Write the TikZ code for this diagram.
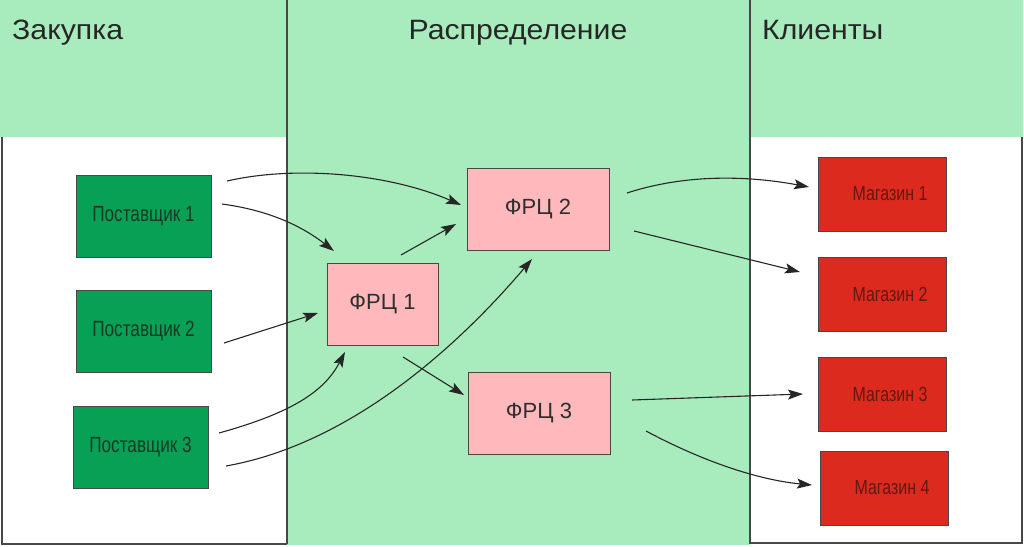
\documentclass[tikz,border=0pt]{standalone}
\usepackage{fontspec}
\setmainfont{Liberation Sans}
\newfontfamily\narrowfont[FakeStretch=0.78]{Liberation Sans}
\newfontfamily\widefont[FakeStretch=1.08]{Liberation Sans}
\usetikzlibrary{positioning,arrows.meta}
\definecolor{LaneGreen}{RGB}{168,236,189}
\definecolor{SupplierGreen}{RGB}{8,160,84}
\definecolor{SupplierText}{RGB}{28,56,38}
\definecolor{CentrePink}{RGB}{255,184,188}
\definecolor{ShopRed}{RGB}{220,42,30}
\definecolor{ShopText}{RGB}{100,24,18}
\colorlet{ColourLine}{black!72}
\tikzset{
  lane border/.style={
    draw=ColourLine,
    line width=1.2pt
  },
  lane title/.style={
    anchor=base west,
    inner sep=0pt,
    text=black!85,
    font=\widefont\fontsize{28}{34}\selectfont
  },
}
\tikzset{
  box/.style={
    draw=ColourLine,
    line width=.9pt,
    rectangle,
    outer sep=0pt,
    inner sep=0pt
  },
  supplier box/.style={
    box,
    fill=SupplierGreen,
    text=SupplierText,
    minimum width=135pt,
    minimum height=82pt,
    font=\narrowfont\fontsize{22}{26}\selectfont
  },
  centre box/.style={
    box,
    fill=CentrePink,
    text=black!82,
    minimum height=82pt,
    font=\fontsize{22}{26}\selectfont
  },
  shop box/.style={
    box,
    fill=ShopRed,
    text=ShopText,
    minimum width=128pt,
    minimum height=74pt,
    font=\narrowfont\fontsize{20.5}{24}\selectfont,
    execute at begin node=\hspace*{16pt}
  },
  flow arrow/.style={
    draw=black!85,
    line width=1.1pt,
    -{Stealth[length=15pt,width=10pt,inset=3pt]}
  },
}

\begin{document}
\begin{tikzpicture}[x=1pt,y=-1pt]
    \useasboundingbox (0,0) rectangle (1024,546);
    \fill[LaneGreen] (0,0) rectangle (1023,137);
    \fill[LaneGreen] (287,137) rectangle (750,545);
    \draw[lane border] (2,137) -- (2,544) -- (287,544);
    \draw[lane border] (287,0) -- (287,544);
    \draw[lane border] (750,0) -- (750,543) -- (1022,543) -- (1022,137);

    \node[lane title] (procure) at (12,39) {Закупка};
    \node[lane title, anchor=base] (distrib) at (518,39) {Распределение};
    \node[lane title] (clients) at (762,39) {Клиенты};

    \node[supplier box] (p1) at (143.5,216) {Поставщик 1};
    \node[supplier box] (p2) [below=33pt of p1] {Поставщик 2};
    \node[supplier box] (p3) [below=34pt of p2, xshift=-3pt] {Поставщик 3};

    \node[centre box, minimum width=111pt] (frc1) at (382.5,304) {ФРЦ 1};
    \node[centre box, minimum width=142pt] (frc2) at (538,209) {ФРЦ 2};
    \node[centre box, minimum width=142pt] (frc3) [below=122pt of frc2, xshift=1pt] {ФРЦ 3};

    \node[shop box] (m1) at (882,194) {Магазин 1};
    \node[shop box] (m2) [below=26pt of m1] {Магазин 2};
    \node[shop box] (m3) [below=26pt of m2] {Магазин 3};
    \node[shop box] (m4) [below=20pt of m3, xshift=2pt] {Магазин 4};

    \draw[flow arrow] ([shift={(16,6)}]p1.north east)
      .. controls +(70,-16) and +(-71,-31) .. ([shift={(-6,-4)}]frc2.west);
    \draw[flow arrow] ([shift={(11,-12)}]p1.east)
      .. controls +(44,6) and +(-35,-27) .. ([shift={(7,-12)}]frc1.north west);
    \draw[flow arrow] ([shift={(13,12)}]p2.east) -- ([shift={(-9,9)}]frc1.west);
    \draw[flow arrow] ([shift={(11,-14)}]p3.east)
      .. controls +(72,-20) and +(-21,40) .. ([shift={(18,7)}]frc1.south west);
    \draw[flow arrow] ([shift={(18,19)}]p3.east)
      .. controls +(130,-23) and +(-67,79) .. ([shift={(-6,9)}]frc2.south);
    \draw[flow arrow] ([shift={(-37,-8)}]frc1.north east) -- ([shift={(-11,15)}]frc2.west);
    \draw[flow arrow] ([shift={(-35,12)}]frc1.south east) -- ([shift={(-4,23)}]frc3.north west);
    \draw[flow arrow] ([shift={(18,-16)}]frc2.east)
      .. controls +(52,-17) and +(-70,-13) .. ([shift={(-9,-7)}]m1.west);
    \draw[flow arrow] ([shift={(25,22)}]frc2.east) -- ([shift={(-18,-22)}]m2.west);
    \draw[flow arrow] ([shift={(22,-13)}]frc3.east) -- ([shift={(-15,0)}]m3.west);
    \draw[flow arrow] ([shift={(36,18)}]frc3.east)
      .. controls +(58,31) and +(-53,-5) .. ([shift={(-8,-3)}]m4.west);
\end{tikzpicture}
\end{document}
